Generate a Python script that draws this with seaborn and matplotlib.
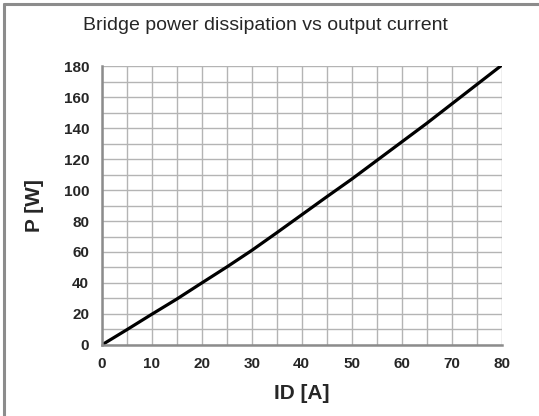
import pandas as pd
import seaborn as sns
import matplotlib.pyplot as plt
from matplotlib.lines import Line2D
from matplotlib.ticker import MultipleLocator

# values
current_a = [0, 5, 10, 15, 20, 25, 30, 35, 40, 45, 50, 55, 60, 65, 70, 75, 80]
power_w = [0, 9.8, 19.8, 29.6, 40, 50.3, 61, 72.4, 84, 95.6, 107, 119, 131, 143, 155.5, 168, 180.5]

data = pd.DataFrame({"ID": current_a, "P": power_w})

sns.set_style("white")
plt.rcParams['font.family'] = ['Liberation Sans', 'DejaVu Sans']

fig = plt.figure(figsize=(5.39, 4.16), dpi=100)
ax = fig.add_axes([0.1887, 0.1707, 0.9308 - 0.1887, 0.8413 - 0.1707])

sns.lineplot(data=data, x="ID", y="P", ax=ax, color="black", linewidth=2.3)

ax.set_xlim(0, 80)
ax.set_ylim(0, 180)
ax.xaxis.set_major_locator(MultipleLocator(10))
ax.xaxis.set_minor_locator(MultipleLocator(5))
ax.yaxis.set_major_locator(MultipleLocator(20))
ax.yaxis.set_minor_locator(MultipleLocator(10))

ax.grid(which="both", color="#b4b4b4", linewidth=1.0)
ax.set_axisbelow(True)

for s in ["top", "right"]:
    ax.spines[s].set_visible(False)
for s in ["left", "bottom"]:
    ax.spines[s].set_color("#8c8c8c")
    ax.spines[s].set_linewidth(1.8)

ax.tick_params(which="major", direction="out", length=4, width=1.5, color="#8c8c8c",
               pad=5, labelsize=11)
ax.tick_params(which="minor", length=0)
for lbl in ax.get_xticklabels() + ax.get_yticklabels():
    lbl.set_fontweight("bold")

ax.set_xlabel("ID [A]", fontsize=15, fontweight="bold", labelpad=9)
ax.set_ylabel("P [W]", fontsize=15, fontweight="bold", labelpad=14)
fig.text(0.492, 0.938, "Bridge power dissipation vs output current",
         ha="center", va="center", fontsize=14)

# frame on the left and top edge of the image
fig.add_artist(Line2D([0.0075, 0.0075], [0, 0.99], transform=fig.transFigure,
                      color="#8c8c8c", linewidth=2.2))
fig.add_artist(Line2D([0.0075, 1.0], [0.99, 0.99], transform=fig.transFigure,
                      color="#8c8c8c", linewidth=2.2))

fig.savefig("out.png", dpi=100)
